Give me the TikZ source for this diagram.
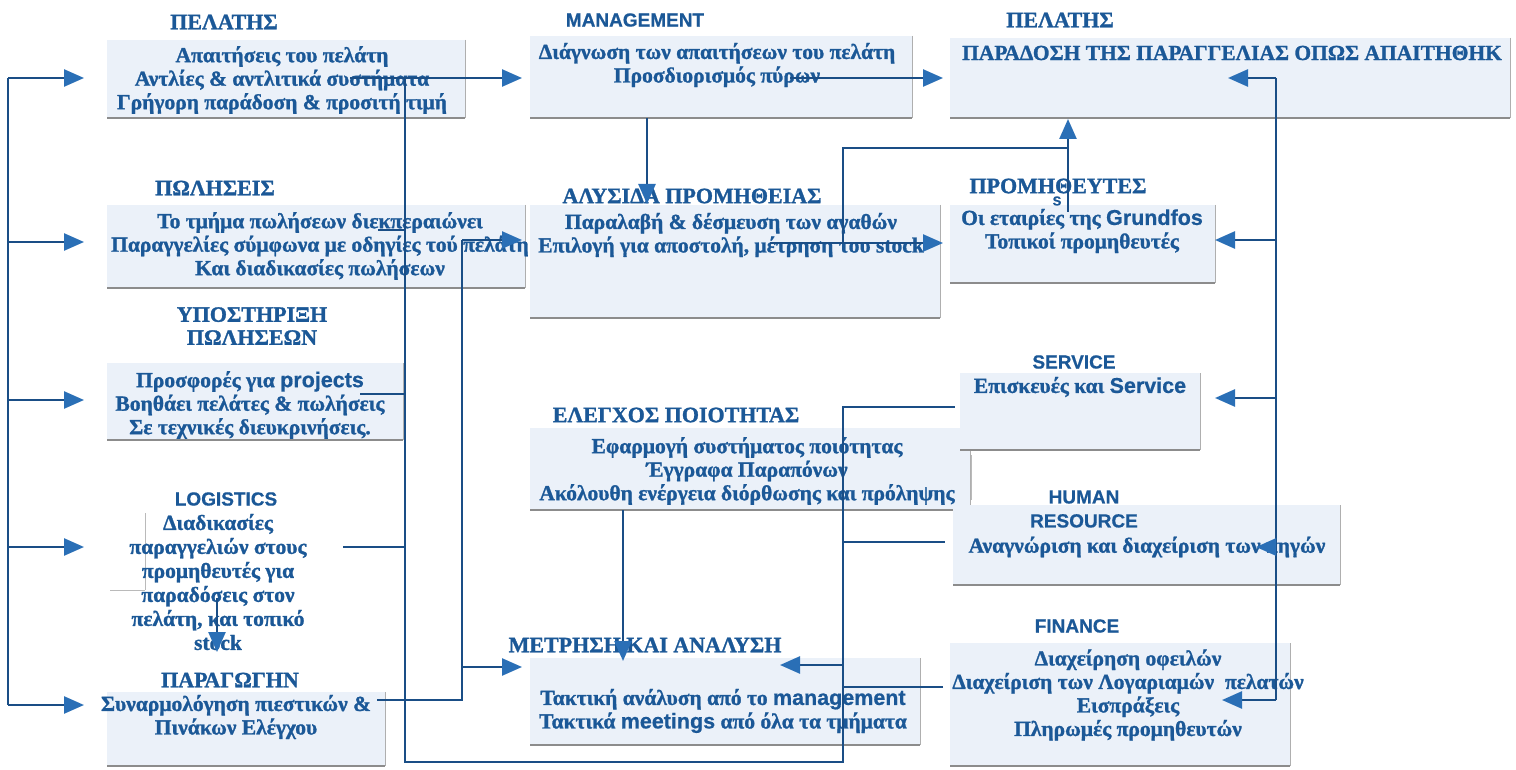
\documentclass[tikz,border=0pt]{standalone}
\usepackage{fontspec}
\setmainfont{Liberation Serif}[BoldFont={Liberation Serif Bold}, BoldFeatures={FakeBold=1.2}]
\newfontfamily\latinsans{Liberation Sans}[BoldFont={Liberation Sans Bold}, BoldFeatures={FakeBold=0.6}]
\usetikzlibrary{arrows.meta}

\definecolor{txtblue}{HTML}{1B5897}
\definecolor{lineblue}{HTML}{1A4E86}
\definecolor{tipblue}{HTML}{2A6FB6}
\definecolor{boxfill}{HTML}{EBF1F9}
\definecolor{edgegray}{HTML}{8C8C8C}

\newcommand\sw[1]{{\latinsans #1}}
% a department panel: light fill, shadow edge at the bottom and on the right
\newcommand\deptpanel[5]{%
  \path (#2,#3) coordinate (#1-nw) (#4,#5) coordinate (#1-se);
  \fill[boxfill] (#1-nw) rectangle (#1-se);
  \draw[edgeb] (#1-nw |- #1-se) -- (#1-se);
  \draw[edger] (#1-se |- #1-nw) -- (#1-se);
}

\tikzset{
  body/.style={font=\bfseries\fontsize{21.5}{23.5}\selectfont, text=txtblue, align=center, inner sep=0pt},
  head/.style={font=\bfseries\fontsize{22}{23}\selectfont, text=txtblue, align=center, inner sep=0pt},
  headsans/.style={font=\latinsans\bfseries\fontsize{19}{24}\selectfont, text=txtblue, align=center, inner sep=0pt},
  edgeb/.style={draw=edgegray, line width=1.3pt},
  edger/.style={draw=edgegray!70, line width=0.8pt},
  faint/.style={draw=edgegray!60, line width=0.8pt},
  wire/.style={draw=lineblue, line width=2.5pt},
  arr/.style={wire, -{Triangle[length=20pt,width=17pt,color=tipblue]}},
}

\begin{document}
\begin{tikzpicture}[x=1pt,y=-1pt]
\useasboundingbox (0,0) rectangle (1516,770);
\fill[white] (0,0) rectangle (1516,770);

% ---------- panels ----------
\deptpanel{cust}{107}{40}{465}{118}
\deptpanel{sales}{107}{205}{525}{288}
\deptpanel{supp}{107}{363}{403}{440}
\deptpanel{prod}{107}{692}{385}{766}
\deptpanel{mgmt}{530}{36}{912}{118}
\deptpanel{chain}{530}{205}{940}{318}
\deptpanel{qual}{530}{428}{970}{510}
\deptpanel{meas}{530}{658}{920}{745}
\deptpanel{deliv}{950}{38}{1510}{118}
\deptpanel{vend}{950}{205}{1215}{283}
\deptpanel{serv}{960}{373}{1200}{450}
\deptpanel{hr}{953}{505}{1340}{585}
\deptpanel{fin}{950}{643}{1290}{766}
\draw[faint] (145,513) -- (145,590) (110,590) -- (145,590);
\draw[faint] (971,455) -- (971,500);

% ---------- left column ----------
\node[head] (custT) at (224,22) {ΠΕΛΑΤΗΣ};
\node[body] (custB) at (282,80) {Απαιτήσεις του πελάτη\\Αντλίες \& αντλιτικά συστήματα\\Γρήγορη παράδοση \& προσιτή τιμή};

\node[head] (salesT) at (215,188) {ΠΩΛΗΣΕΙΣ};
\node[body] (salesB) at (320,246) {Το τμήμα πωλήσεων διεκπεραιώνει\\Παραγγελίες σύμφωνα με οδηγίες τού πελάτη\\Και διαδικασίες πωλήσεων};

\node[head] (suppT) at (252,326) {ΥΠΟΣΤΗΡΙΞΗ\\ΠΩΛΗΣΕΩΝ};
\node[body] (suppB) at (250,405) {Προσφορές για \sw{projects}\\Βοηθάει πελάτες \& πωλήσεις\\Σε τεχνικές διευκρινήσεις.};

\node[headsans] (logT) at (226,499) {LOGISTICS};
\node[body, font=\bfseries\fontsize{21.5}{24}\selectfont] (logB) at (218,582) {Διαδικασίες\\παραγγελιών στους\\προμηθευτές για\\παραδόσεις στον\\πελάτη, και τοπικό\\stock};

\node[head] (prodT) at (230,680) {ΠΑΡΑΓΩΓΗΝ};
\node[body] (prodB) at (236,717) {Συναρμολόγηση πιεστικών \&\\Πινάκων Ελέγχου};

% ---------- middle column ----------
\node[headsans] (mgmtT) at (635,20) {MANAGEMENT};
\node[body] (mgmtB) at (717,65) {Διάγνωση των απαιτήσεων του πελάτη\\Προσδιορισμός πύρων};

\node[head] (chainT) at (692,196) {ΑΛΥΣΙΔΑ ΠΡΟΜΗΘΕΙΑΣ};
\node[body] (chainB) at (731,235) {Παραλαβή \& δέσμευση των αγαθών\\Επιλογή για αποστολή, μέτρηση του stock};

\node[head] (qualT) at (676,415) {ΕΛΕΓΧΟΣ ΠΟΙΟΤΗΤΑΣ};
\node[body] (qualB) at (747,471) {Εφαρμογή συστήματος ποιότητας\\Έγγραφα Παραπόνων\\Ακόλουθη ενέργεια διόρθωσης και πρόληψης};

\node[head] (measT) at (645,645) {ΜΕΤΡΗΣΗ ΚΑΙ ΑΝΑΛΥΣΗ};
\node[body] (measB) at (723,711) {Τακτική ανάλυση από το \sw{management}\\Τακτικά \sw{meetings} από όλα τα τμήματα};

% ---------- right column ----------
\node[head] (delivT) at (1060,20) {ΠΕΛΑΤΗΣ};
\node[body] (delivB) at (1232,53) {ΠΑΡΑΔΟΣΗ ΤΗΣ ΠΑΡΑΓΓΕΛΙΑΣ ΟΠΩΣ ΑΠΑΙΤΗΘΗΚ};

\node[head] (vendT) at (1058,186) {ΠΡΟΜΗΘΕΥΤΕΣ};
\node[headsans, font=\latinsans\bfseries\fontsize{13}{13}\selectfont] (vendS) at (1057,201) {S};
\node[body] (vendB) at (1082,231) {Οι εταιρίες της \sw{Grundfos}\\Τοπικοί προμηθευτές};

\node[headsans] (servT) at (1074,362) {SERVICE};
\node[body] (servB) at (1080,387) {Επισκευές και \sw{Service}};

\node[headsans] (hrT) at (1084,509) {HUMAN\\RESOURCE};
\node[body] (hrB) at (1147,547) {Αναγνώριση και διαχείριση των πηγών};

\node[headsans] (finT) at (1077,626) {FINANCE};
\node[body] (finB) at (1128,695) {Διαχείρηση οφειλών\\Διαχείριση των Λογαριαμών \ πελατών\\Εισπράξεις\\Πληρωμές προμηθευτών};

% ---------- connector points ----------
% left distribution bus
\coordinate (lb1) at (8,78);   \coordinate (lt1) at (84,78);
\coordinate (lb2) at (8,242);  \coordinate (lt2) at (84,242);
\coordinate (lb3) at (8,400);  \coordinate (lt3) at (84,400);
\coordinate (lb4) at (8,547);  \coordinate (lt4) at (84,547);
\coordinate (lb5) at (8,705);  \coordinate (lt5) at (84,705);
% feedback loop through x=405 and x=843
\coordinate (c0) at (350,78);
\coordinate (c1) at (405,78);
\coordinate (c2) at (522,78);
\coordinate (c3) at (405,762);
\coordinate (c4) at (843,762);
\coordinate (c5) at (843,407);
\coordinate (c6) at (955,407);
\coordinate (s1) at (378,230);  \coordinate (s1b) at (405,230);
\coordinate (s2) at (360,394);  \coordinate (s2b) at (405,394);
\coordinate (s3) at (343,547);  \coordinate (s3b) at (405,547);
\coordinate (h1) at (843,542);  \coordinate (h2) at (945,542);
\coordinate (f1) at (943,687);  \coordinate (f2) at (843,687);
\coordinate (m1) at (843,665);  \coordinate (m2) at (780,665);
% line at x=462
\coordinate (p0) at (377,700);
\coordinate (p1) at (462,700);
\coordinate (p2) at (462,240);
\coordinate (p3) at (522,240);
\coordinate (p4) at (462,667);
\coordinate (p5) at (522,667);
% middle links
\coordinate (g1) at (647,118);  \coordinate (g2) at (647,204);
\coordinate (g3) at (790,78);   \coordinate (g4) at (943,78);
\coordinate (k1) at (770,243);  \coordinate (k2) at (943,243);
\coordinate (k3) at (843,243);  \coordinate (k4) at (843,148);
\coordinate (k5) at (1068,148);
\coordinate (v1) at (1068,212); \coordinate (v2) at (1068,119);
\coordinate (q1) at (623,510);  \coordinate (q2) at (623,661);
\coordinate (o1) at (217,598);  \coordinate (o2) at (217,652);
% right bus
\coordinate (rb1) at (1276,78);  \coordinate (rt1) at (1228,78);
\coordinate (rb2) at (1276,240); \coordinate (rt2) at (1215,240);
\coordinate (rb3) at (1276,398); \coordinate (rt3) at (1215,398);
\coordinate (rb4) at (1276,547); \coordinate (rt4) at (1256,547);
\coordinate (rb5) at (1276,700); \coordinate (rt5) at (1222,700);

% ---------- connectors ----------
\draw[wire] (lb1) -- (lb5);
\foreach \i in {1,...,5} \draw[arr] (lb\i) -- (lt\i);

\draw[arr] (c0) -- (c2);
\draw[wire] (c1) -- (c3) -- (c4) -- (c5) -- (c6);
\draw[wire] (s1) -- (s1b);
\draw[wire] (s2) -- (s2b);
\draw[wire] (s3) -- (s3b);
\draw[wire] (h1) -- (h2);
\draw[wire] (f1) -- (f2);
\draw[arr] (m1) -- (m2);

\draw[wire] (p0) -- (p1) -- (p2);
\draw[arr] (p2) -- (p3);
\draw[arr] (p4) -- (p5);

\draw[arr] (g1) -- (g2);
\draw[arr] (g3) -- (g4);
\draw[arr] (k1) -- (k2);
\draw[wire] (k3) -- (k4) -- (k5);
\draw[arr] (v1) -- (v2);
\draw[arr] (q1) -- (q2);
\draw[arr] (o1) -- (o2);

\draw[wire] (rb1) -- (rb5);
\foreach \i in {1,...,5} \draw[arr] (rb\i) -- (rt\i);
\end{tikzpicture}
\end{document}
